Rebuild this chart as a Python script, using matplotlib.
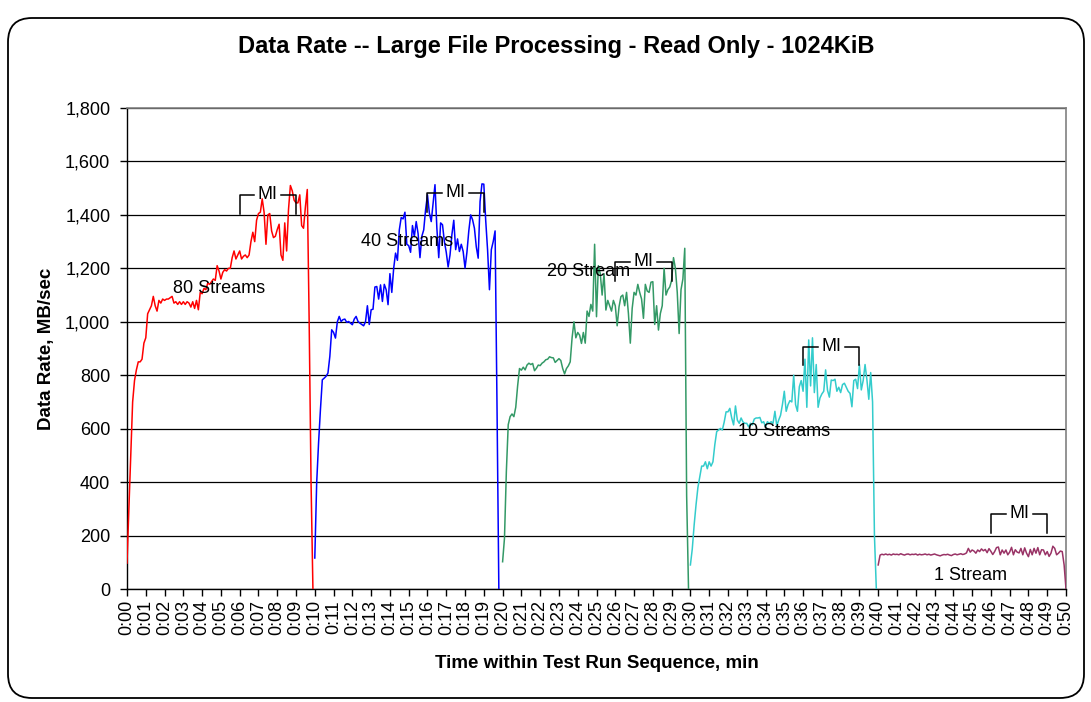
import numpy as np
import matplotlib
matplotlib.use("Agg")
import matplotlib.pyplot as plt
from matplotlib.patches import FancyBboxPatch
from matplotlib.transforms import IdentityTransform
from matplotlib.ticker import FuncFormatter

plt.rcParams['font.family'] = ['Liberation Sans', 'DejaVu Sans']

# ---- data (MB/sec, sampled every 0.1 min) ----
step = 0.1
starts = [0.0, 10.0, 20.0, 30.0, 40.0]

rate_80 = [97, 300, 500, 700, 780, 820, 850, 850, 860, 920,
           940, 1030, 1045, 1060, 1095, 1060, 1040, 1080, 1070, 1085,
           1080, 1085, 1085, 1090, 1095, 1070, 1075, 1065, 1075, 1065,
           1075, 1065, 1075, 1070, 1055, 1075, 1050, 1080, 1045, 1110,
           1105, 1125, 1120, 1145, 1140, 1150, 1160, 1155, 1210, 1190,
           1160, 1185, 1195, 1190, 1200, 1200, 1240, 1265, 1235, 1250,
           1265, 1235, 1245, 1250, 1240, 1250, 1300, 1335, 1300, 1380,
           1405, 1410, 1460, 1410, 1290, 1400, 1405, 1340, 1315, 1320,
           1345, 1365, 1250, 1230, 1370, 1265, 1420, 1510, 1490, 1455,
           1445, 1445, 1475, 1360, 1350, 1430, 1495, 1000, 400, 0]

rate_40 = [116, 397, 546, 671, 783, 789, 796, 808, 870, 970,
           960, 939, 1000, 1020, 1001, 1008, 1010, 998, 1001, 995,
           989, 1010, 1020, 1001, 995, 990, 985, 1000, 1060, 990,
           1045, 1047, 1130, 1132, 1085, 1138, 1076, 1140, 1120, 1064,
           1180, 1110, 1200, 1257, 1230, 1344, 1390, 1385, 1410, 1290,
           1285, 1260, 1360, 1319, 1375, 1330, 1240, 1320, 1344, 1420,
           1475, 1407, 1375, 1444, 1513, 1350, 1240, 1370, 1363, 1300,
           1260, 1205, 1250, 1326, 1380, 1270, 1310, 1263, 1290, 1263,
           1201, 1260, 1340, 1400, 1382, 1350, 1280, 1238, 1450, 1516,
           1515, 1380, 1269, 1120, 1270, 1300, 1340, 700, 0]

rate_20 = [102, 190, 440, 615, 645, 655, 645, 680, 760, 825,
           819, 830, 820, 838, 845, 840, 844, 817, 826, 838,
           836, 845, 850, 858, 860, 869, 866, 865, 848, 855,
           862, 855, 825, 805, 825, 835, 850, 940, 1000, 940,
           960, 950, 919, 960, 920, 1040, 1020, 1065, 1040, 1290,
           1019, 1210, 1180, 1100, 1180, 1044, 1080, 1060, 1040, 1080,
           1060, 985, 1056, 1094, 1100, 1060, 1110, 1031, 920, 1050,
           1110, 1100, 1140, 1110, 1085, 1013, 1140, 1115, 1110, 1148,
           1150, 990, 1060, 969, 1031, 1060, 1200, 1100, 1120, 1130,
           1155, 1240, 1200, 1110, 956, 1120, 1160, 1275, 350, 0]

rate_10 = [90, 150, 240, 315, 380, 420, 460, 460, 476, 450,
           476, 460, 476, 540, 589, 595, 601, 595, 625, 663,
           663, 676, 640, 614, 685, 632, 620, 640, 625, 620,
           620, 607, 620, 614, 636, 640, 640, 642, 622, 626,
           607, 626, 620, 626, 620, 665, 610, 632, 650, 690,
           740, 665, 690, 705, 700, 800, 690, 665, 757, 780,
           740, 860, 680, 932, 760, 940, 735, 840, 680, 715,
           730, 740, 820, 744, 718, 782, 780, 785, 740, 755,
           735, 765, 770, 755, 740, 732, 682, 780, 785, 750,
           840, 745, 780, 840, 782, 710, 810, 700, 200, 0]

rate_1 = [90, 127, 130, 128, 131, 128, 130, 127, 131, 129,
          130, 128, 132, 129, 127, 130, 131, 128, 130, 129,
          131, 127, 130, 128, 129, 131, 128, 130, 127, 129,
          131, 128, 126, 124, 127, 129, 128, 130, 127, 125,
          129, 131, 128, 130, 132, 129, 131, 135, 152, 138,
          146, 142, 134, 146, 140, 150, 143, 148, 136, 151,
          141, 129, 140, 155, 157, 128, 146, 134, 146, 128,
          138, 156, 128, 147, 138, 135, 152, 128, 154, 134,
          121, 148, 128, 152, 134, 155, 128, 147, 146, 128,
          140, 122, 134, 160, 152, 128, 134, 142, 140, 90, 0]

series = [rate_80, rate_40, rate_20, rate_10, rate_1]
colors = ['#ff0000', '#0000ff', '#339966', '#33cccc', '#993366']
labels = ['80 Streams', '40 Streams', '20 Stream', '10 Streams', '1 Stream']
label_t = [4.9, 14.9, 24.6, 35.0, 44.9]
label_v = [1123, 1299, 1190, 591, 49]

mi_start = [6, 16, 26, 36, 46]
mi_end = [9, 19, 29, 39, 49]
mi_level = [1475, 1482, 1224, 907, 281]

x_ticks = list(range(0, 51))
x_ticklabels = ["0:%02d" % m for m in x_ticks]

# ---- figure ----
fig = plt.figure(figsize=(10.91, 7.02), dpi=100)
frame = FancyBboxPatch((8, 4), 1076, 680,
                       boxstyle="round,pad=0,rounding_size=24",
                       transform=IdentityTransform(), facecolor='none',
                       edgecolor='black', linewidth=1.3, zorder=10)
fig.patches.append(frame)

ax = fig.add_axes([127 / 1091, 1 - 589 / 702, (1066 - 127) / 1091, (589 - 108) / 702])
ax.set_facecolor('white')

for st, vals, c in zip(starts, series, colors):
    t = st + step * np.arange(len(vals))
    ax.plot(t, vals, color=c, linewidth=1.1, zorder=3)

ax.set_xlim(0, 50)
ax.set_ylim(0, 1800)
ax.set_yticks(np.arange(0, 1801, 200))
ax.yaxis.set_major_formatter(FuncFormatter(lambda v, p: f"{int(v):,}"))
ax.set_xticks(x_ticks)
ax.set_xticklabels(x_ticklabels, rotation=90)
ax.tick_params(axis='x', direction='out', length=5, width=1, labelsize=13, pad=3)
ax.tick_params(axis='y', direction='out', length=5, width=1, labelsize=13, pad=7)
ax.yaxis.grid(True, color='black', linewidth=0.9)
ax.set_axisbelow(True)
for s in ['top', 'right']:
    ax.spines[s].set_color('#808080')
    ax.spines[s].set_linewidth(1.2)
for s in ['left', 'bottom']:
    ax.spines[s].set_color('black')
    ax.spines[s].set_linewidth(1.0)

# stream labels
for lt, lv, txt in zip(label_t, label_v, labels):
    ax.text(lt, lv, txt, ha='center', va='center', fontsize=13, zorder=5)

# MI brackets
gap = 0.72
drop = 70
for s0, s1, lev in zip(mi_start, mi_end, mi_level):
    mid = (s0 + s1) / 2
    ax.plot([s0, s0, mid - gap], [lev - drop, lev, lev], color='black', lw=1.1, zorder=5)
    ax.plot([mid + gap, s1, s1], [lev, lev, lev - drop], color='black', lw=1.1, zorder=5)
    ax.text(mid, lev, 'MI', ha='center', va='center', fontsize=13, zorder=6)

ax.set_xlabel('Time within Test Run Sequence, min', fontsize=13.5, fontweight='bold', labelpad=14)
ax.set_ylabel('Data Rate, MB/sec', fontsize=13.5, fontweight='bold', labelpad=7)
fig.text(556 / 1091, 1 - 46 / 702, 'Data Rate -- Large File Processing - Read Only - 1024KiB',
         ha='center', va='center', fontsize=17, fontweight='bold')

fig.savefig('out.png', dpi=100, facecolor='white')
